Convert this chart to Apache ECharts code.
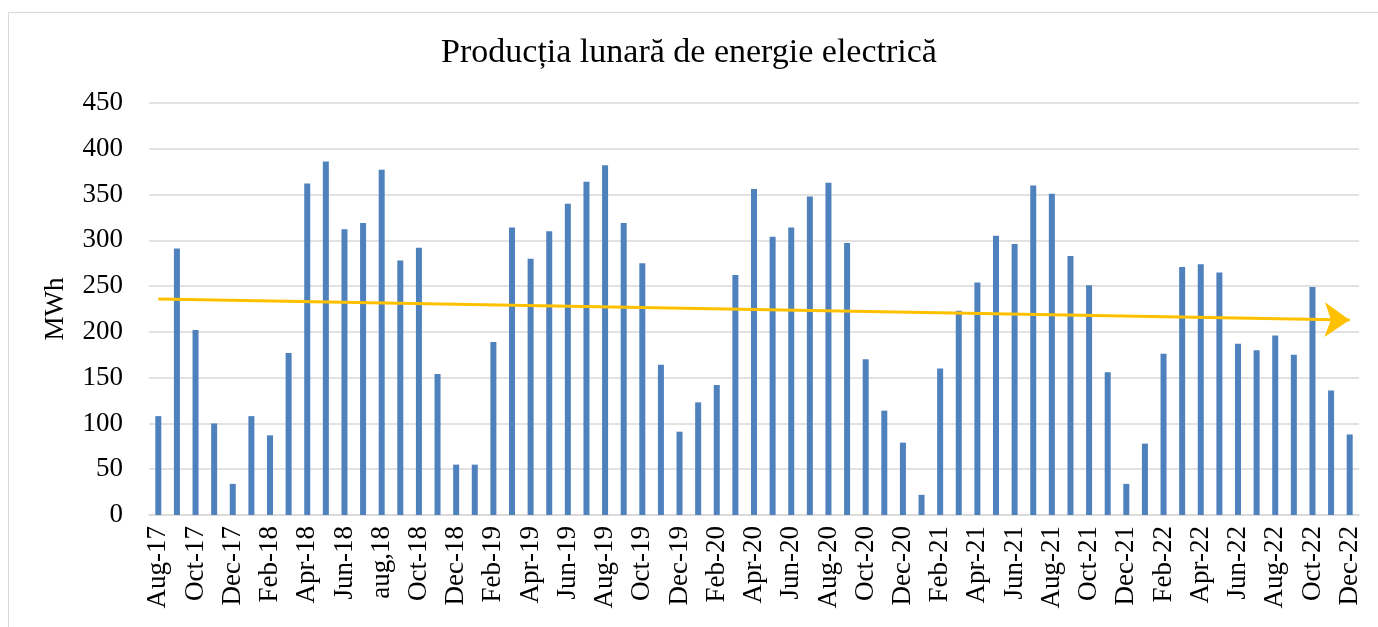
<!DOCTYPE html>
<html><head><meta charset="UTF-8">
<title>Productia lunara</title>
<script src="https://cdn.jsdelivr.net/npm/echarts@6/dist/echarts.min.js"></script>
<style>
  html, body { margin: 0; padding: 0; background: #fff; overflow: hidden; }
  #frame { position: absolute; left: 8px; top: 12px; width: 1420px; height: 700px; border: 1.5px solid #d9d9d9; }
  #g1 { position: absolute; left: 0; top: 0; width: 1378px; height: 627px; }
</style>
</head>
<body>
<div id="frame"></div>
<div id="g1"></div>
<script type="text/javascript">
// categorii (luni)
var months = [
  'Aug-17','Sep-17','Oct-17','Nov-17','Dec-17',
  'Jan-18','Feb-18','Mar-18','Apr-18','May-18','Jun-18','Jul-18','aug,18','Sep-18','Oct-18','Nov-18','Dec-18',
  'Jan-19','Feb-19','Mar-19','Apr-19','May-19','Jun-19','Jul-19','Aug-19','Sep-19','Oct-19','Nov-19','Dec-19',
  'Jan-20','Feb-20','Mar-20','Apr-20','May-20','Jun-20','Jul-20','Aug-20','Sep-20','Oct-20','Nov-20','Dec-20',
  'Jan-21','Feb-21','Mar-21','Apr-21','May-21','Jun-21','Jul-21','Aug-21','Sep-21','Oct-21','Nov-21','Dec-21',
  'Jan-22','Feb-22','Mar-22','Apr-22','May-22','Jun-22','Jul-22','Aug-22','Sep-22','Oct-22','Nov-22','Dec-22'
];

// productie MWh
var production = [
  108, 291, 202, 100, 34,
  108, 87, 177, 362, 386, 312, 319, 377, 278, 292, 154, 55,
  55, 189, 314, 280, 310, 340, 364, 382, 319, 275, 164, 91,
  123, 142, 262, 356, 304, 314, 348, 363, 297, 170, 114, 79,
  22, 160, 223, 254, 305, 296, 360, 351, 283, 251, 156, 34,
  78, 176, 271, 274, 265, 187, 180, 196, 175, 249, 136, 88
];

// linia de tendinta (capete)
var trendStart = 236;
var trendEnd = 213;

var yTicks = [0, 50, 100, 150, 200, 250, 300, 350, 400, 450];

var serif = '"Liberation Serif", "Times New Roman", serif';

var option = {
  animation: false,
  title: {
    text: 'Producția lunară de energie electrică',
    left: 'center',
    top: 31,
    textStyle: { fontFamily: serif, fontSize: 34, fontWeight: 'normal', color: '#000' }
  },
  grid: { left: 149, right: 19, top: 103, height: 412 },
  xAxis: {
    type: 'category',
    data: months,
    axisTick: { show: false },
    axisLine: { lineStyle: { color: '#d9d9d9', width: 1.5 } },
    axisLabel: {
      interval: 1,
      rotate: 90,
      margin: 11,
      fontFamily: serif,
      fontSize: 27,
      color: '#000'
    }
  },
  yAxis: {
    type: 'value',
    min: yTicks[0],
    max: yTicks[yTicks.length - 1],
    interval: 50,
    name: 'MWh',
    nameLocation: 'middle',
    nameGap: 80,
    nameTextStyle: { fontFamily: serif, fontSize: 27, color: '#000' },
    axisLine: { show: false },
    axisTick: { show: false },
    axisLabel: { fontFamily: serif, fontSize: 27, color: '#000', margin: 26 },
    splitLine: { lineStyle: { color: '#d9d9d9', width: 1.5 } }
  },
  series: [{
    type: 'bar',
    data: production,
    barWidth: 6,
    itemStyle: { color: '#4f81bd' },
    markLine: {
      silent: true,
      symbol: ['none', 'arrow'],
      symbolSize: [26, 25],
      label: { show: false },
      lineStyle: { color: '#ffc000', width: 3, type: 'solid' },
      data: [[
        { coord: [0, trendStart] },
        { coord: [months.length - 1, trendEnd] }
      ]]
    }
  }]
};

var myChart = echarts.init(document.getElementById('g1'));
myChart.setOption(option);
</script>
</body></html>
